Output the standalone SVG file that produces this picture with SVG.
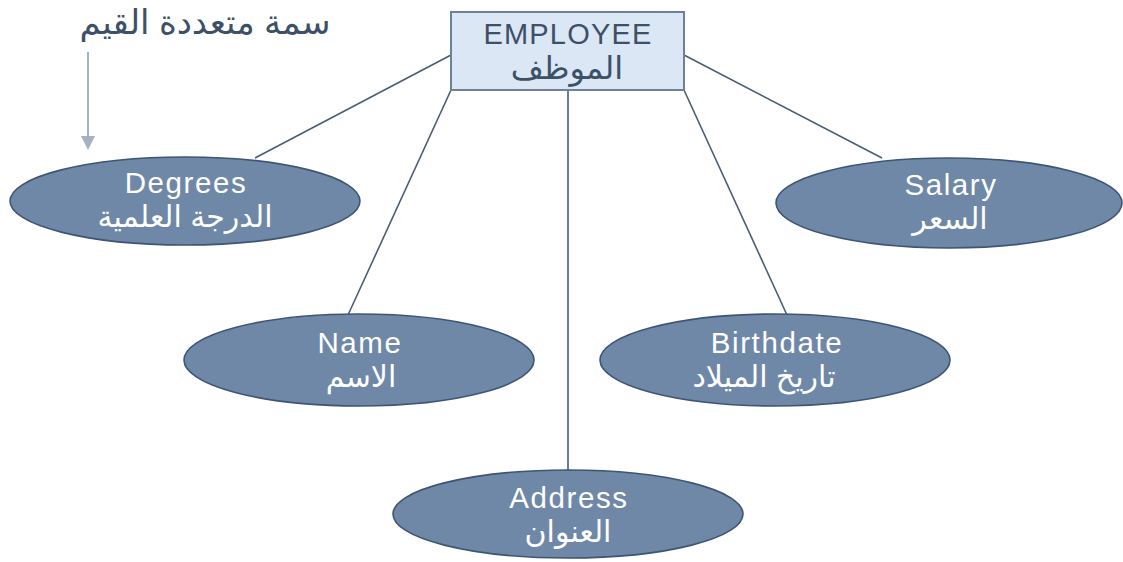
<svg xmlns="http://www.w3.org/2000/svg" width="1123" height="562" viewBox="0 0 1123 562">
<style>
.ell{fill:#6f88a7;stroke:#3e5573;stroke-width:1.6}
.box{fill:#dbe7f5;stroke:#6e819a;stroke-width:2}
.con{stroke:#4a5d75;stroke-width:1.6;fill:none}
.wt{font-family:"Liberation Sans","DejaVu Sans",sans-serif;font-size:29.5px;fill:#ffffff;text-anchor:middle}
.la{letter-spacing:1.6px}
.lb{letter-spacing:1.2px}
.wa{font-size:30px;letter-spacing:0}
.dk{font-family:"Liberation Sans","DejaVu Sans",sans-serif;font-size:29px;fill:#3d5068;text-anchor:middle}
.da{font-size:32px;letter-spacing:0}
.an{font-size:34px}
</style>
<rect width="1123" height="562" fill="#ffffff"/>
<g id="connectors">
<line class="con" x1="451" y1="55" x2="255" y2="158"/>
<line class="con" x1="451" y1="90" x2="348" y2="315"/>
<line class="con" x1="568" y1="90" x2="568" y2="471"/>
<line class="con" x1="684" y1="90" x2="787" y2="315"/>
<line class="con" x1="684" y1="55" x2="882" y2="158"/>
<line x1="88" y1="52" x2="88" y2="138" stroke="#a6b2bf" stroke-width="2"/>
<polygon points="81,136 95,136 88,150" fill="#a6b2bf"/>
</g>
<g id="annotation">
<text class="dk an" x="205" y="34">سمة متعددة القيم</text>
</g>
<g id="employee">
<rect class="box" x="451" y="12" width="233" height="78"/>
<text class="dk"><tspan class="lb" x="568" y="44">EMPLOYEE</tspan><tspan class="da" x="567" y="79">الموظف</tspan></text>
</g>
<g id="degrees">
<ellipse class="ell" cx="185" cy="201" rx="175" ry="44"/>
<text class="wt"><tspan class="la" x="186" y="193">Degrees</tspan><tspan class="wa" x="185" y="227">الدرجة العلمية</tspan></text>
</g>
<g id="salary">
<ellipse class="ell" cx="949" cy="203" rx="173" ry="45"/>
<text class="wt"><tspan class="la" x="951" y="195">Salary</tspan><tspan class="wa" x="950" y="229">السعر</tspan></text>
</g>
<g id="name">
<ellipse class="ell" cx="359" cy="360" rx="175" ry="46"/>
<text class="wt"><tspan class="la" x="360" y="353">Name</tspan><tspan class="wa" x="361" y="387">الاسم</tspan></text>
</g>
<g id="birthdate">
<ellipse class="ell" cx="775" cy="360" rx="175" ry="46"/>
<text class="wt"><tspan class="la" x="777" y="353">Birthdate</tspan><tspan class="wa" x="764" y="387">تاريخ الميلاد</tspan></text>
</g>
<g id="address">
<ellipse class="ell" cx="568" cy="514" rx="175" ry="44"/>
<text class="wt"><tspan class="la" x="569" y="508">Address</tspan><tspan class="wa" x="568" y="542">العنوان</tspan></text>
</g>
</svg>
